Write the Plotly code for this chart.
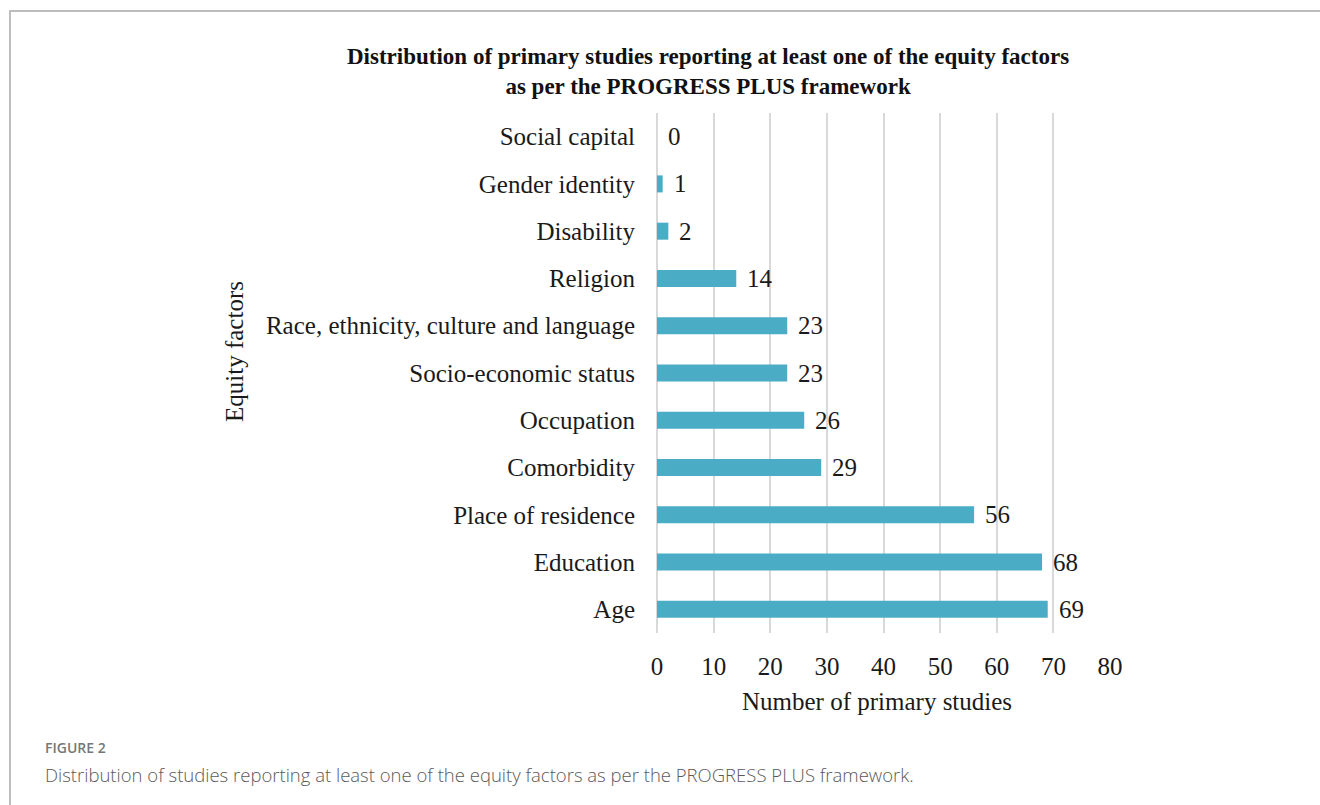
import plotly.graph_objects as go

categories = ["Age", "Education", "Place of residence", "Comorbidity", "Occupation",
              "Socio-economic status", "Race, ethnicity, culture and language",
              "Religion", "Disability", "Gender identity", "Social capital"]
values = [69, 68, 56, 29, 26, 23, 23, 14, 2, 1, 0]
x_ticks = [0, 10, 20, 30, 40, 50, 60, 70, 80]

W, H = 1320, 805
L, R, T, B = 657, 1110, 113, 633
pw, ph = R - L, B - T

def px(xp):
    return (xp - L) / pw

def py(yp):
    return (B - yp) / ph

serif = "Liberation Serif, Times New Roman, serif"
sans = "Open Sans, Noto Sans, sans-serif"

fig = go.Figure()
fig.add_trace(go.Bar(
    x=values, y=categories, orientation="h",
    marker=dict(color="#4BACC6", line=dict(width=0)),
    width=0.36, hoverinfo="skip", cliponaxis=False,
))

annotations = []
for c, v in zip(categories, values):
    annotations.append(dict(x=v, y=c, xref="x", yref="y", text=str(v),
                            showarrow=False, xanchor="left", xshift=9,
                            font=dict(family=serif, size=25, color="#1a1a1a")))

annotations += [
    dict(x=px(708), y=py(71), xref="paper", yref="paper",
         text="<b>Distribution of primary studies reporting at least one of the equity factors<br>as per the PROGRESS PLUS framework</b>",
         showarrow=False, xanchor="center", yanchor="middle", align="center",
         font=dict(family=serif, size=23, color="#111")),
    dict(x=px(234), y=py(352), xref="paper", yref="paper", text="Equity factors",
         textangle=-90, showarrow=False, xanchor="center", yanchor="middle",
         font=dict(family=serif, size=25, color="#1a1a1a")),
    dict(x=px(877), y=py(701), xref="paper", yref="paper", text="Number of primary studies",
         showarrow=False, xanchor="center", yanchor="middle",
         font=dict(family=serif, size=25, color="#1a1a1a")),
    dict(x=px(43), y=py(747), xref="paper", yref="paper", text="FIGURE 2",
         showarrow=False, xanchor="left", yanchor="middle",
         font=dict(family=sans, size=14, color="#777", weight=600)),
    dict(x=px(43), y=py(774), xref="paper", yref="paper",
         text="Distribution of studies reporting at least one of the equity factors as per the PROGRESS PLUS framework.",
         showarrow=False, xanchor="left", yanchor="middle",
         font=dict(family=sans, size=18.5, color="#5a5a5a", weight=300)),
]

shapes = [
    dict(type="line", xref="paper", yref="paper", x0=px(9), x1=px(1320), y0=py(11), y1=py(11),
         line=dict(color="#bdbdbd", width=2)),
    dict(type="line", xref="paper", yref="paper", x0=px(10), x1=px(10), y0=py(11), y1=py(805),
         line=dict(color="#bdbdbd", width=2)),
]

fig.update_layout(
    width=W, height=H,
    margin=dict(l=L, r=W - R, t=T, b=H - B, pad=0),
    paper_bgcolor="white", plot_bgcolor="white",
    showlegend=False,
    annotations=annotations, shapes=shapes,
)
fig.update_xaxes(range=[0, 80], tickvals=x_ticks, ticktext=[str(t) for t in x_ticks],
                 showgrid=True, gridcolor="#d9d9d9", gridwidth=1.5,
                 zeroline=True, zerolinecolor="#d9d9d9", zerolinewidth=1.5,
                 showline=False, ticks="outside", ticklen=11, tickcolor="rgba(0,0,0,0)",
                 tickfont=dict(family=serif, size=25, color="#1a1a1a"), fixedrange=True)
fig.update_yaxes(categoryorder="array", categoryarray=categories,
                 showgrid=False, zeroline=False, showline=False,
                 ticks="outside", ticklen=16, tickcolor="rgba(0,0,0,0)",
                 tickfont=dict(family=serif, size=25, color="#1a1a1a"), fixedrange=True)

fig.write_html("out.html", config={"displayModeBar": False})
